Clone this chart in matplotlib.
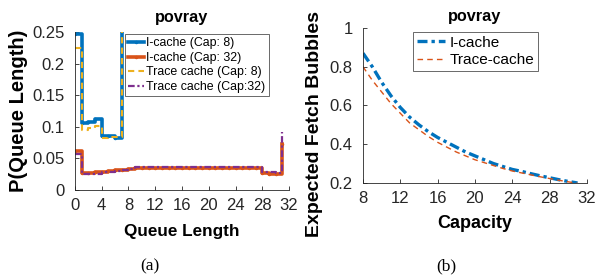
import matplotlib
matplotlib.use("Agg")
import matplotlib.pyplot as plt

plt.rcParams['font.family'] = ['Liberation Sans', 'DejaVu Sans']

# (a) distribucion de longitud de cola
qlen_8 = list(range(0, 8))
icache_8 = [0.247, 0.106, 0.108, 0.112, 0.085, 0.085, 0.083, 0.40]
trace_8 = [0.224, 0.095, 0.098, 0.102, 0.083, 0.084, 0.084, 0.40]

qlen_32 = list(range(0, 32))
icache_32 = [0.062, 0.027, 0.027, 0.028, 0.029, 0.030, 0.031, 0.031,
             0.033, 0.035, 0.035, 0.035, 0.035, 0.035, 0.035, 0.035,
             0.035, 0.035, 0.035, 0.035, 0.035, 0.035, 0.035, 0.035,
             0.035, 0.035, 0.035, 0.035, 0.027, 0.026, 0.025, 0.072]
trace_32 = [0.057, 0.025, 0.025, 0.026, 0.028, 0.029, 0.030, 0.031,
            0.033, 0.036, 0.036, 0.036, 0.036, 0.036, 0.036, 0.036,
            0.036, 0.036, 0.036, 0.036, 0.036, 0.036, 0.036, 0.036,
            0.036, 0.036, 0.036, 0.036, 0.029, 0.028, 0.027, 0.092]

# (b) burbujas esperadas vs capacidad
capacidad = list(range(8, 32))
burb_icache = [0.87, 0.80, 0.72, 0.65, 0.59, 0.54, 0.50, 0.465, 0.435, 0.41,
               0.385, 0.36, 0.34, 0.32, 0.30, 0.285, 0.27, 0.26, 0.248, 0.237,
               0.227, 0.217, 0.208, 0.20]
burb_trace = [0.80, 0.73, 0.67, 0.61, 0.56, 0.51, 0.475, 0.44, 0.41, 0.385,
              0.36, 0.34, 0.32, 0.305, 0.29, 0.275, 0.262, 0.252, 0.242, 0.232,
              0.223, 0.214, 0.206, 0.199]

azul = '#0072BD'
naranja = '#D95319'
amarillo = '#EDB120'
morado = '#7E2F8E'
gris = '#262626'

fig = plt.figure(figsize=(5.97, 2.76), dpi=100)
ax1 = fig.add_axes([0.1256, 0.3116, 0.3585, 0.5725])
ax2 = fig.add_axes([0.608, 0.337, 0.375, 0.5616])


def estilo(ax):
    for s in ['top', 'right']:
        ax.spines[s].set_visible(False)
    for s in ['left', 'bottom']:
        ax.spines[s].set_color(gris)
        ax.spines[s].set_linewidth(0.6)
    ax.tick_params(direction='in', length=3, width=0.6, colors=gris,
                   labelsize=12)
    ax.tick_params(axis='x', pad=6)
    ax.tick_params(axis='y', pad=7.5)


ax1.step(qlen_8, icache_8, where='post', color=azul, lw=2.6,
         marker='.', ms=3, label='I-cache (Cap: 8)')
ax1.step(qlen_32, icache_32, where='post', color=naranja, lw=2.6,
         marker='.', ms=3, label='I-cache (Cap: 32)')
ax1.step(qlen_8, trace_8, where='post', color=amarillo, lw=1.5,
         dashes=(3, 2), label='Trace cache (Cap: 8)')
ax1.step(qlen_32, trace_32, where='post', color=morado, lw=1.6,
         dashes=(3, 1.2, 1, 1.2), label='Trace cache (Cap:32)')
ax1.set_xlim(0, 32)
ax1.set_ylim(0, 0.25)
ax1.set_xticks(range(0, 33, 4))
ax1.set_yticks([0, 0.05, 0.1, 0.15, 0.2, 0.25])
ax1.set_yticklabels(['0', '0.05', '0.1', '0.15', '0.2', '0.25'])
estilo(ax1)
ax1.set_title('povray', fontsize=11.7, fontweight='bold', pad=7)
ax1.set_xlabel('Queue Length', fontsize=12.3, fontweight='bold', labelpad=8)
ax1.set_ylabel('P(Queue Length)', fontsize=14.5, fontweight='bold')
ax1.yaxis.set_label_coords(-0.22, 0.5)
leg1 = ax1.legend(loc='upper right', bbox_to_anchor=(0.905, 0.985), fontsize=8.9,
                  frameon=True, fancybox=False, edgecolor=gris, borderpad=0.25,
                  labelspacing=0.2, handlelength=1.3, handletextpad=0.2,
                  borderaxespad=0.0)
leg1.get_frame().set_linewidth(0.6)

ax2.plot(capacidad, burb_icache, color=azul, lw=2.4, dashes=(3, 1.2, 1, 1.2),
         label='I-cache')
ax2.plot(capacidad, burb_trace, color=naranja, lw=1.0, dashes=(4, 3),
         label='Trace-cache')
ax2.set_xlim(8, 32)
ax2.set_ylim(0.2, 1)
ax2.set_xticks(range(8, 33, 4))
ax2.set_yticks([0.2, 0.4, 0.6, 0.8, 1])
ax2.set_yticklabels(['0.2', '0.4', '0.6', '0.8', '1'])
estilo(ax2)
ax2.set_title('povray', fontsize=11.7, fontweight='bold', pad=5)
ax2.set_xlabel('Capacity', fontsize=13, fontweight='bold', labelpad=6)
ax2.set_ylabel('Expected Fetch Bubbles', fontsize=14, fontweight='bold')
ax2.yaxis.set_label_coords(-0.179, 0.38)
leg2 = ax2.legend(loc='upper left', bbox_to_anchor=(0.223, 0.974), fontsize=11.1,
                  frameon=True, fancybox=False, edgecolor=gris, borderpad=0.25,
                  labelspacing=0.2, handlelength=1.8, handletextpad=0.3,
                  borderaxespad=0.0)
leg2.get_frame().set_linewidth(0.6)

fig.text(0.251, 0.02, '(a)', family='Liberation Serif', fontsize=12.5, ha='center')
fig.text(0.747, 0.02, '(b)', family='Liberation Serif', fontsize=12.5, ha='center')

fig.savefig('out.png', dpi=100)
